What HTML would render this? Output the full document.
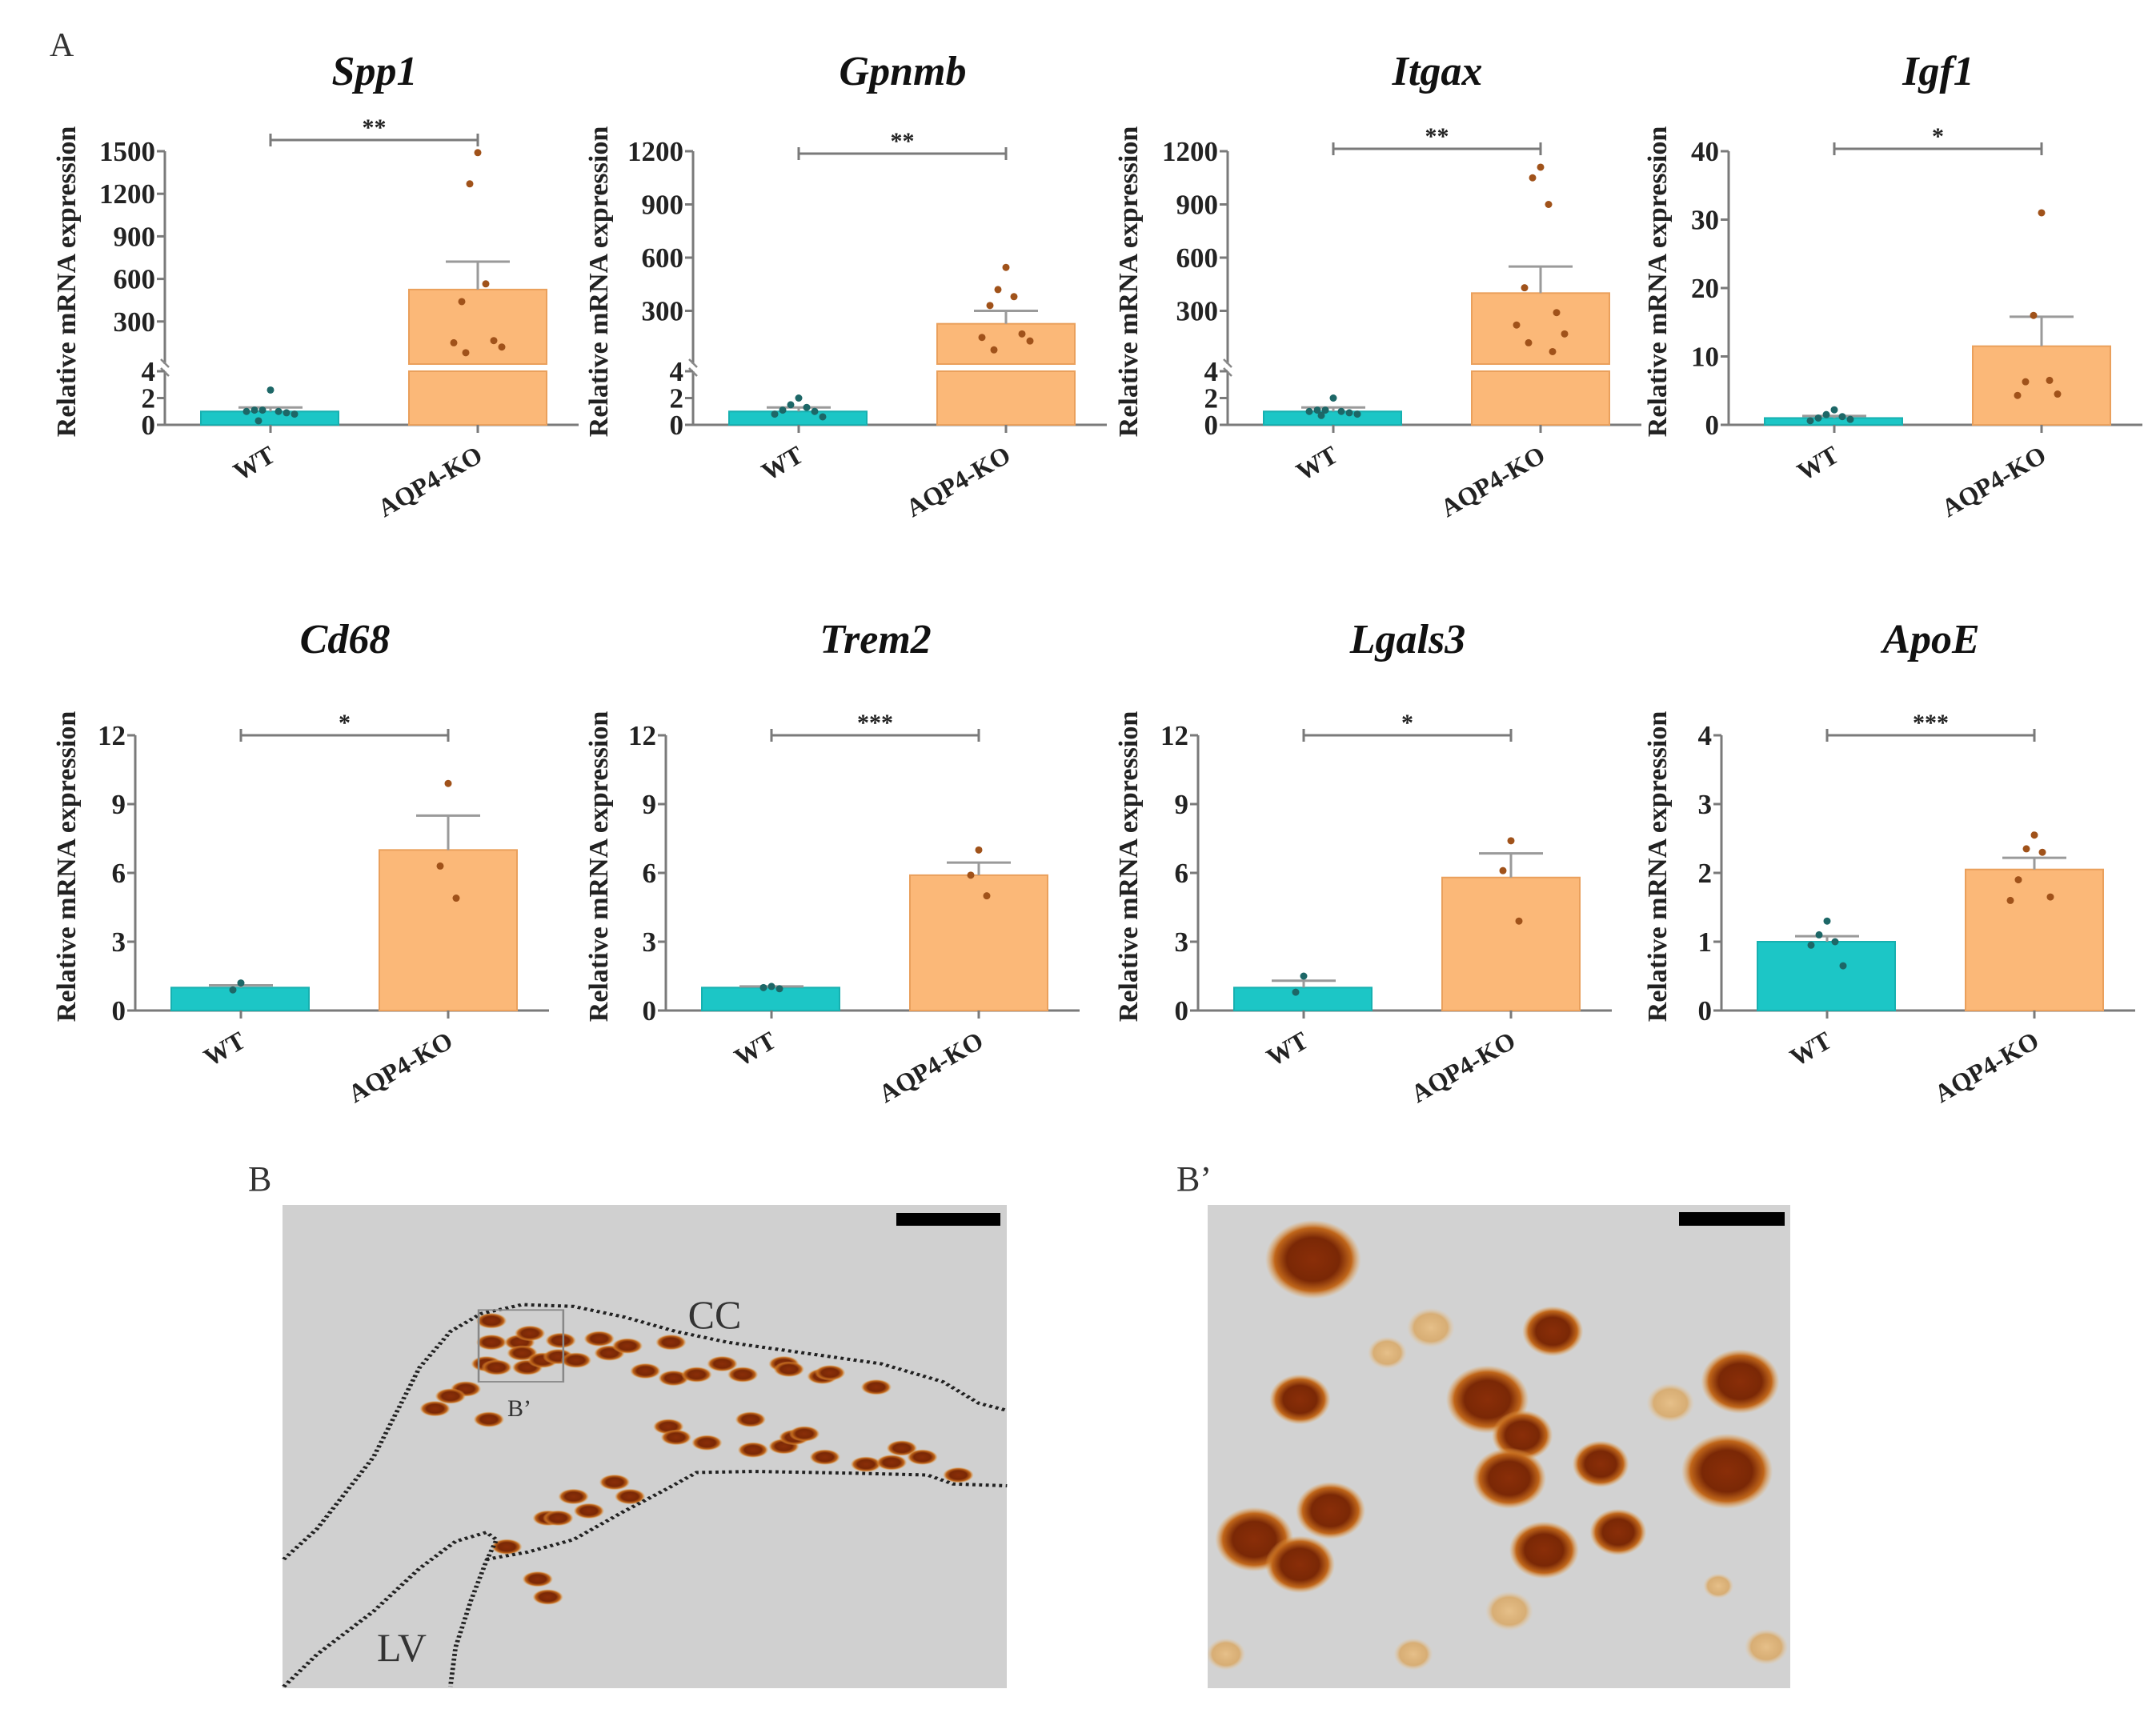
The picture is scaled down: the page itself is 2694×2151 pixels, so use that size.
<!DOCTYPE html>
<html><head><meta charset="utf-8">
<style>
html,body{margin:0;padding:0;background:#fff;}
svg{display:block;}
text{font-family:"Liberation Serif",serif;}
</style></head>
<body>
<svg id="fig" width="2694" height="2151" viewBox="0 0 2694 2151" xmlns="http://www.w3.org/2000/svg">
<defs>
<radialGradient id="cellDark" cx="50%" cy="50%" r="50%">
<stop offset="0%" stop-color="#8a2e08"/><stop offset="55%" stop-color="#7a2806"/><stop offset="80%" stop-color="#c0661a"/><stop offset="100%" stop-color="#e8a24a" stop-opacity="0"/>
</radialGradient>
<radialGradient id="cellPale" cx="50%" cy="50%" r="50%">
<stop offset="0%" stop-color="#e6c08a"/><stop offset="70%" stop-color="#d9a55e" stop-opacity="0.8"/><stop offset="100%" stop-color="#e8c79a" stop-opacity="0"/>
</radialGradient>
</defs>
<text x="62" y="70" font-size="42" fill="#333">A</text>
<g id="charts"></g>

<!-- Panel B micrograph -->
<text x="310" y="1488" font-size="44" fill="#333">B</text>
<g>
<rect x="353" y="1506" width="905" height="604" fill="#d0d0d0"/>
<g transform="translate(300,1440) scale(0.641,0.4484)">
<g id="blobsB"></g>
<path d="M85,1135 L150,1050 L260,850 L350,600 L410,500 L470,450 L550,425 L650,430 L750,460 L850,500 L950,530 L1100,560 L1250,590 L1370,640 L1440,700 L1495,720" fill="none" stroke="#222" stroke-width="9" stroke-dasharray="6,7"/>
<path d="M480,1135 L560,1115 L650,1080 L750,1000 L830,940 L890,893 L1000,890 L1200,895 L1340,900 L1390,925 L1495,930" fill="none" stroke="#222" stroke-width="9" stroke-dasharray="6,7"/>
<path d="M85,1490 L150,1400 L260,1280 L350,1160 L420,1085 L480,1060 L500,1080 L480,1140 L450,1250 L420,1380 L410,1490" fill="none" stroke="#222" stroke-width="9" stroke-dasharray="6,7"/>
<rect x="465" y="440" width="165" height="200" fill="none" stroke="#888" stroke-width="4"/>
</g>
<rect x="1120" y="1516" width="130" height="16" fill="#000"/>
<text x="893" y="1660" font-size="50" fill="#333" text-anchor="middle">CC</text>
<text x="502" y="2076" font-size="50" fill="#333" text-anchor="middle">LV</text>
<text x="649" y="1770" font-size="30" fill="#333" text-anchor="middle">B’</text>
</g>

<!-- Panel B' -->
<text x="1470" y="1488" font-size="44" fill="#333">B’</text>
<g>
<rect x="1509" y="1506" width="728" height="604" fill="#d2d2d2"/>
<svg x="1509" y="1506" width="728" height="604" viewBox="108 148 1337 1347" preserveAspectRatio="none">
<g id="blobsBp"></g>
</svg>
<rect x="2098" y="1515" width="132" height="17" fill="#000"/>
</g>
</svg>

<script>
// ---- chart data ----
const genes = ["Spp1","Gpnmb","Itgax","Igf1","Cd68","Trem2","Lgals3","ApoE"];
const groups = ["WT","AQP4-KO"];
const wtMeans = [1.0, 1.0, 1.0, 1.0, 1.0, 1.0, 1.0, 1.0];
const wtErr   = [0.3, 0.3, 0.3, 0.3, 0.1, 0.05, 0.3, 0.08];
const koMeans = [525, 227, 400, 11.5, 7.0, 5.9, 5.8, 2.05];
const koErr   = [197, 73, 150, 4.3, 1.5, 0.55, 1.05, 0.17];
const wtPoints = [
  [2.6,1.1,1.0,1.1,0.9,1.0,0.8,0.3],
  [2.0,1.5,1.3,1.1,1.0,0.8,0.6],
  [2.0,1.1,1.0,1.1,0.9,1.0,0.8,0.7],
  [2.2,1.5,1.2,1.0,0.8,0.6],
  [1.2,0.9],
  [1.05,1.0,0.95],
  [1.5,0.8],
  [1.3,1.1,1.0,0.95,0.65]
];
const koPoints = [
  [1490,1270,565,440,165,150,120,80],
  [545,420,380,330,170,150,130,80],
  [1110,1050,900,430,290,220,170,120,70],
  [31,16,6.5,6.3,4.5,4.3],
  [9.9,6.3,4.9],
  [7.0,5.9,5.0],
  [7.4,6.1,3.9],
  [2.55,2.35,2.3,1.9,1.65,1.6]
];
const sigLabels = ["**","**","**","*","*","***","*","***"];
const upperTicks = [[300,600,900,1200,1500],[300,600,900,1200],[300,600,900,1200],null,null,null,null,null];
const lowerTicks = [[0,2,4],[0,2,4],[0,2,4],[0,10,20,30,40],[0,3,6,9,12],[0,3,6,9,12],[0,3,6,9,12],[0,1,2,3,4]];
const upperMax = [1500,1200,1200,null,null,null,null,null];

// ---- layout ----
const axisX = [206,866,1534,2160,169,832,1497,2151];
const titleX = [82,747,1409,2070];
const NS = "http://www.w3.org/2000/svg";
const root = document.getElementById("charts");
function mk(tag, attrs, parent){
  const e = document.createElementNS(NS, tag);
  for (const k in attrs) e.setAttribute(k, attrs[k]);
  (parent||root).appendChild(e);
  return e;
}
const AX = "#7a7a7a";
genes.forEach((g, i) => {
  const row = i < 4 ? 0 : 1;
  const x0 = axisX[i];
  const zero = row === 0 ? 531 : 1263;
  const top = row === 0 ? 189 : 919;
  const broken = upperTicks[i] !== null;
  const lowTop = 464, upBase = 455;
  const lmax = lowerTicks[i][lowerTicks[i].length-1];
  function y(v){
    if (broken){
      if (v <= 4) return zero - v*(zero-lowTop)/4;
      return upBase - v*(upBase-top)/upperMax[i];
    }
    return zero - v*(zero-top)/lmax;
  }
  const grp = mk("g", {});
  
  

  const t = mk("text", {x: x0+262, y: row===0?106:816, "font-size": 52, "font-style":"italic", "font-weight":"bold", "text-anchor":"middle", fill:"#111"}, grp);
  t.textContent = g;
  
  

  const yt = mk("text", {x:0, y:0, "font-size":34, "font-weight":"bold", "text-anchor":"middle", fill:"#222",
    transform:`translate(${titleX[i%4]+12},${row===0?352:1083}) rotate(-90)`}, grp);
  yt.textContent = "Relative mRNA expression";
  
  

  if (broken){
    const a1 = mk("line",{x1:x0,y1:top,x2:x0,y2:upBase,stroke:AX,"stroke-width":3},grp);
    
    
    const a2 = mk("line",{x1:x0,y1:lowTop,x2:x0,y2:zero,stroke:AX,"stroke-width":3},grp);
    
    
    const br = mk("path",{d:`M${x0-5},${upBase-6} L${x0+5},${upBase+4} M${x0-5},${lowTop-4} L${x0+5},${lowTop+6}`,stroke:"#888","stroke-width":2.5,fill:"none"},grp);
    
    
  } else {
    const a = mk("line",{x1:x0,y1:top,x2:x0,y2:zero,stroke:AX,"stroke-width":3},grp);
    
    
  }
  const ticks = (upperTicks[i]||[]).concat(lowerTicks[i]);
  ticks.forEach(v => {
    const yy = (broken && v<=4 && upperTicks[i].indexOf(v)<0) ? zero - v*(zero-lowTop)/4 : y(v);
    const tk = mk("line",{x1:x0-10,y1:yy,x2:x0,y2:yy,stroke:AX,"stroke-width":3},grp);
    
    
    const tl = mk("text",{x:x0-12,y:yy+12,"font-size":35,"font-weight":"bold","text-anchor":"end",fill:"#222"},grp);
    tl.textContent = v;
    
    
  });
  const xa = mk("line",{x1:x0,y1:zero,x2:x0+517,y2:zero,stroke:AX,"stroke-width":3},grp);
  
  

  const centers = [x0+132, x0+391];
  const bx = [x0+45, x0+305];
  const means = [wtMeans[i], koMeans[i]];
  const errs = [wtErr[i], koErr[i]];
  const pts = [wtPoints[i], koPoints[i]];
  const fills = ["#1cc6c6","#fbb878"];
  const strokes = ["#17b0b0","#eaa05c"];
  const ptc = ["#1d6767","#a0521a"];
  for (let k=0;k<2;k++){
    const m = means[k];
    const ym = y(m);
    if (broken && m > 4){
      const b1 = mk("rect",{x:bx[k],y:ym,width:172,height:upBase-ym,fill:fills[k],stroke:strokes[k],"stroke-width":2},grp);
      
      
      const b2 = mk("rect",{x:bx[k],y:lowTop,width:172,height:zero-lowTop,fill:fills[k],stroke:strokes[k],"stroke-width":2},grp);
      
      
    } else {
      const b = mk("rect",{x:bx[k],y:ym,width:172,height:zero-ym,fill:fills[k],stroke:strokes[k],"stroke-width":2},grp);
      
      
    }
    const ye = y(m+errs[k]);
    const eb = mk("path",{d:`M${centers[k]},${ym} L${centers[k]},${ye} M${centers[k]-40},${ye} L${centers[k]+40},${ye}`,stroke:"#9a9a9a","stroke-width":3,fill:"none"},grp);
    
    
    const xt = mk("line",{x1:centers[k],y1:zero,x2:centers[k],y2:zero+10,stroke:AX,"stroke-width":3},grp);
    
    
    const offs = [0,-10,10,-20,20,-30,30,-15,15];
    pts[k].forEach((v,j) => {
      const p = mk("circle",{cx:centers[k]+offs[j%offs.length],cy:y(v),r:4.5,fill:ptc[k]},grp);
      
      
    });
    const xl = mk("text",{x:0,y:0,"font-size":32,"font-weight":"bold","text-anchor":"end",fill:"#222",
      transform:`translate(${centers[k]+8},${zero+44}) rotate(-30)`},grp);
    xl.textContent = groups[k];
    
    
  }
  const sy = row===0 ? [175,192,186,186][i] : 919;
  const sb = mk("path",{d:`M${centers[0]},${sy-8} L${centers[0]},${sy+8} M${centers[0]},${sy} L${centers[1]},${sy} M${centers[1]},${sy-8} L${centers[1]},${sy+8}`,stroke:"#7a7a7a","stroke-width":3,fill:"none"},grp);
  
  
  const st = mk("text",{x:(centers[0]+centers[1])/2,y:sy-6,"font-size":30,"font-weight":"bold","text-anchor":"middle",fill:"#222"},grp);
  st.textContent = sigLabels[i];
  
  
});

// ---- micrograph blobs (decorative) ----
const bB = document.getElementById("blobsB");
const blobsB = [[490,470],[490,530],[480,590],[500,600],[545,530],[565,505],[550,560],[560,600],[590,580],[625,525],[620,570],[655,580],[700,520],[720,560],[755,540],[790,610],[840,530],[845,630],[890,620],[940,590],[980,620],[1060,590],[1070,605],[1135,625],[1150,615],[1240,655],[440,660],[410,680],[380,715],[485,745],[835,765],[850,795],[910,810],[995,745],[1000,830],[1060,820],[1080,795],[1100,785],[1140,850],[1220,870],[1270,865],[1290,825],[1330,850],[1400,900],[650,960],[730,920],[760,960],[600,1020],[620,1020],[680,1000],[520,1100],[580,1190],[600,1240]];
blobsB.forEach(p => {
  const e = mk("ellipse",{cx:p[0],cy:p[1],rx:30,ry:22,fill:"url(#cellDark)"},bB);
  
  
});
const bBp = document.getElementById("blobsBp");
const dark = [[350,300,110],[320,690,70],[750,690,95],[830,790,70],[800,910,85],[900,500,70],[1010,870,65],[1050,1060,65],[880,1110,80],[390,1000,80],[215,1080,90],[320,1150,80],[1330,640,90],[1300,890,105]];
dark.forEach(p => {
  const e = mk("circle",{cx:p[0],cy:p[1],r:p[2],fill:"url(#cellDark)"},bBp);
  
  
});
const pale = [[620,490,55],[520,560,45],[1170,700,55],[800,1280,55],[150,1400,45],[580,1400,45],[1390,1380,50],[1280,1210,35]];
pale.forEach(p => {
  const e = mk("circle",{cx:p[0],cy:p[1],r:p[2],fill:"url(#cellPale)"},bBp);
  
  
});
</script>
</body></html>
